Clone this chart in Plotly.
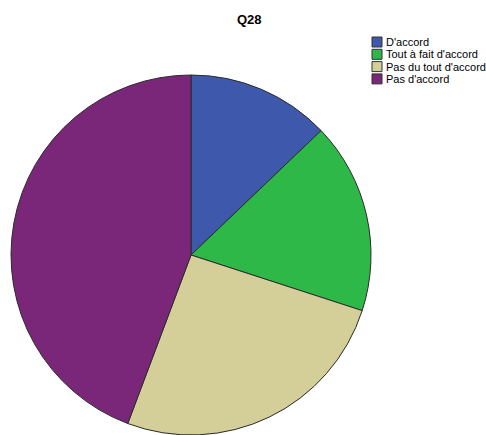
import plotly.graph_objects as go

labels = ["D'accord", "Tout à fait d'accord", "Pas du tout d'accord", "Pas d'accord"]
values = [9, 12, 18, 31]
colors = ["#3E58AC", "#2EB848", "#D4CF98", "#7B2779"]
title = "Q28"

W, H = 486, 435
def px(x): return x / W
def py(y): return 1 - y / H

fig = go.Figure(go.Pie(
    labels=labels, values=values, sort=False, direction="clockwise", rotation=0,
    marker=dict(colors=colors, line=dict(color="#2b2b2b", width=1)),
    textinfo="none", hoverinfo="label+value+percent",
    domain=dict(x=[px(11), px(371)], y=[py(435), py(75)]),
    showlegend=False,
))

shapes, annotations = [], []
annotations.append(dict(text="<b>" + title + "</b>", x=px(249), y=py(19), xref="paper", yref="paper",
                        showarrow=False, xanchor="center", yanchor="middle",
                        font=dict(family="Liberation Sans, Arial", size=13, color="#000")))
for i, (lab, col) in enumerate(zip(labels, colors)):
    cy = 42 + 12.3 * i
    shapes.append(dict(type="rect", xref="paper", yref="paper",
                       x0=px(372), x1=px(382), y0=py(cy + 5), y1=py(cy - 5),
                       fillcolor=col, line=dict(color="#333", width=1)))
    annotations.append(dict(text=lab, x=px(384), y=py(cy), xref="paper", yref="paper",
                            showarrow=False, xanchor="left", yanchor="middle",
                            font=dict(family="Liberation Sans, Arial", size=11, color="#000")))

fig.update_layout(width=W, height=H, margin=dict(l=0, r=0, t=0, b=0),
                  paper_bgcolor="white", plot_bgcolor="white",
                  shapes=shapes, annotations=annotations)
fig.write_html("out.html")
